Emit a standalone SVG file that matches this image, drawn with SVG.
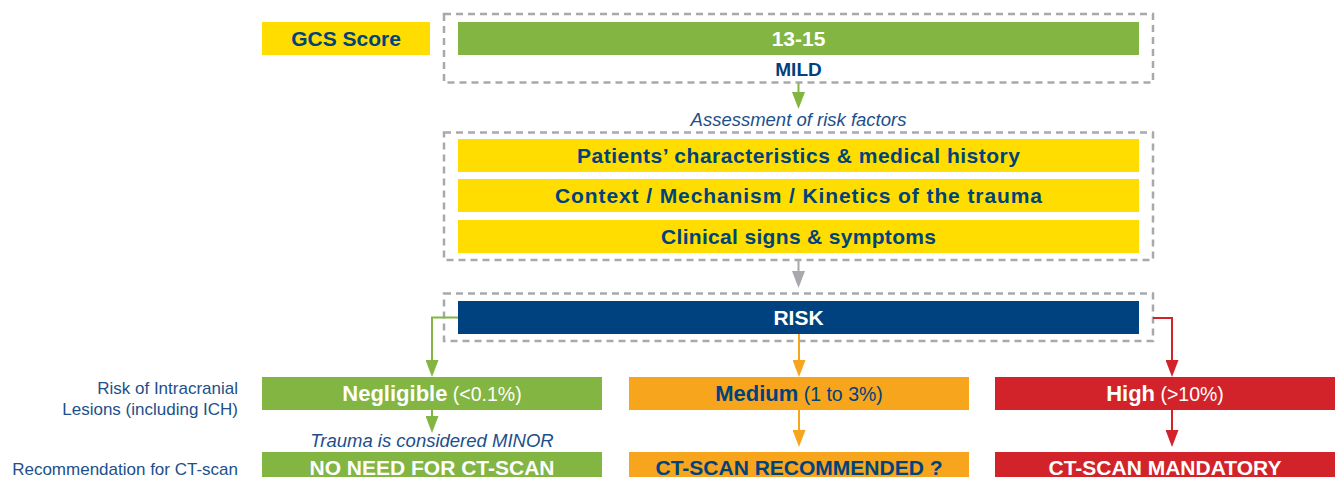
<svg xmlns="http://www.w3.org/2000/svg" width="1341" height="477" viewBox="0 0 1341 477">
<style>
text{font-family:"Liberation Sans",Arial,sans-serif}
.b{font-weight:bold;font-size:21px;text-anchor:middle}
.w{fill:#ffffff}
.d{fill:#00427c}
.it{font-style:italic;font-size:18.5px;fill:#1d4f8a;text-anchor:middle}
.lab{font-size:17px;fill:#1d4f8a;text-anchor:end}
.lv{font-size:22px}
.sm{font-weight:normal;font-size:19.5px}
.dash{fill:none;stroke:#a7a9ac;stroke-width:2.5;stroke-dasharray:7 5}
.con{fill:none;stroke-width:2}
</style>
<defs>
<marker id="ag" markerUnits="userSpaceOnUse" markerWidth="17" markerHeight="13" viewBox="0 0 17 13" refX="9" refY="6.5" orient="auto"><path d="M0,0 L17,6.5 L0,13 z" fill="#82b541"/></marker>
<marker id="ay" markerUnits="userSpaceOnUse" markerWidth="17" markerHeight="13" viewBox="0 0 17 13" refX="9" refY="6.5" orient="auto"><path d="M0,0 L17,6.5 L0,13 z" fill="#a7a9ac"/></marker>
<marker id="ao" markerUnits="userSpaceOnUse" markerWidth="17" markerHeight="13" viewBox="0 0 17 13" refX="9" refY="6.5" orient="auto"><path d="M0,0 L17,6.5 L0,13 z" fill="#f7a51c"/></marker>
<marker id="ar" markerUnits="userSpaceOnUse" markerWidth="17" markerHeight="13" viewBox="0 0 17 13" refX="9" refY="6.5" orient="auto"><path d="M0,0 L17,6.5 L0,13 z" fill="#d2232a"/></marker>
</defs>

<g id="labels">
<text class="lab" x="238" y="394">Risk of Intracranial</text>
<text class="lab" x="238" y="415">Lesions (including ICH)</text>
<text class="lab" x="238" y="475">Recommendation for CT-scan</text>
</g>

<g id="gcs-label">
<rect x="262" y="22" width="168" height="33" fill="#ffdd00"/>
<text class="b d" x="346" y="46">GCS Score</text>
</g>

<g id="gcs-group">
<rect class="dash" x="444" y="14" width="709" height="68.5"/>
<rect x="458" y="22" width="681" height="33" fill="#82b541"/>
<text class="b w" x="798.5" y="46">13-15</text>
<text class="b d" x="798.5" y="76" style="font-size:19px">MILD</text>
</g>

<g id="assessment-label">
<text class="it" x="798.5" y="126">Assessment of risk factors</text>
</g>

<g id="risk-factors">
<rect class="dash" x="444" y="132.5" width="709" height="127.5"/>
<rect x="458" y="139" width="681" height="33" fill="#ffdd00"/>
<text class="b d" x="798.5" y="163" textLength="443">Patients’ characteristics &amp; medical history</text>
<rect x="458" y="179" width="681" height="33" fill="#ffdd00"/>
<text class="b d" x="798.5" y="203" textLength="487">Context / Mechanism / Kinetics of the trauma</text>
<rect x="458" y="220" width="681" height="33" fill="#ffdd00"/>
<text class="b d" x="798.5" y="244" textLength="275">Clinical signs &amp; symptoms</text>
</g>

<g id="risk">
<rect class="dash" x="444" y="293.5" width="709" height="47.5"/>
<rect x="458" y="301" width="681" height="33" fill="#004280"/>
<text class="b w" x="798.5" y="325">RISK</text>
</g>

<g id="negligible">
<rect x="262" y="377" width="340" height="33" fill="#82b541"/>
<text class="b w lv" x="432" y="401">Negligible<tspan class="sm"> (&lt;0.1%)</tspan></text>
</g>
<g id="medium">
<rect x="629" y="377" width="340" height="33" fill="#f7a51c"/>
<text class="b d lv" x="799" y="401">Medium<tspan class="sm"> (1 to 3%)</tspan></text>
</g>
<g id="high">
<rect x="995" y="377" width="340" height="33" fill="#d2232a"/>
<text class="b w lv" x="1165" y="401">High<tspan class="sm"> (&gt;10%)</tspan></text>
</g>

<g id="minor-label">
<text class="it" x="432" y="447">Trauma is considered MINOR</text>
</g>

<g id="no-ct">
<rect x="262" y="452" width="340" height="33" fill="#82b541"/>
<text class="b w" x="432" y="475">NO NEED FOR CT-SCAN</text>
</g>
<g id="ct-recommended">
<rect x="629" y="452" width="340" height="33" fill="#f7a51c"/>
<text class="b d" x="799" y="475">CT-SCAN RECOMMENDED ?</text>
</g>
<g id="ct-mandatory">
<rect x="995" y="452" width="340" height="33" fill="#d2232a"/>
<text class="b w" x="1165" y="475">CT-SCAN MANDATORY</text>
</g>

<g id="connectors">
<path class="con" stroke="#82b541" d="M798.5,83 V101" marker-end="url(#ag)"/>
<path class="con" stroke="#a7a9ac" d="M798.5,261 V280" marker-end="url(#ay)"/>
<path class="con" stroke="#82b541" d="M458,317.5 H432 V369" marker-end="url(#ag)"/>
<path class="con" stroke="#f7a51c" d="M799,334 V369" marker-end="url(#ao)"/>
<path class="con" stroke="#d2232a" d="M1153,318 H1172 V369" marker-end="url(#ar)"/>
<path class="con" stroke="#82b541" d="M432,410 V425" marker-end="url(#ag)"/>
<path class="con" stroke="#f7a51c" d="M799,410 V439" marker-end="url(#ao)"/>
<path class="con" stroke="#d2232a" d="M1172,410 V439" marker-end="url(#ar)"/>
</g>
</svg>
